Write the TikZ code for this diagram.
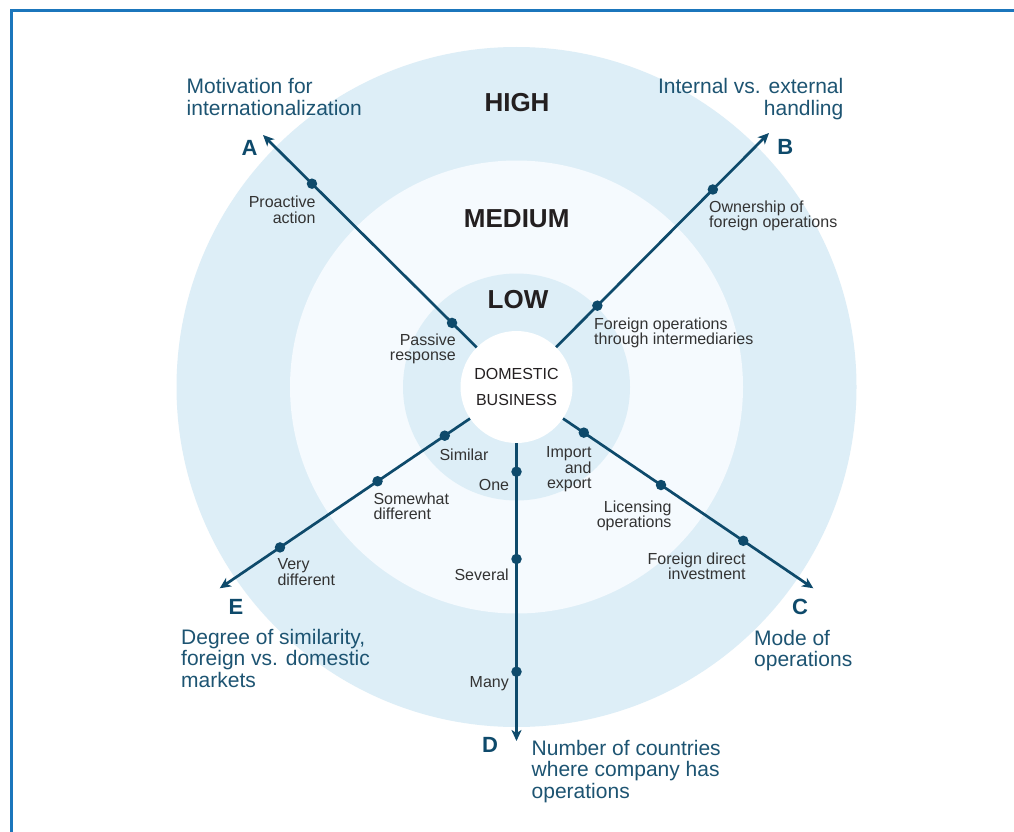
\documentclass[tikz,border=0pt]{standalone}
\usepackage{fontspec}
\setmainfont{Liberation Sans}
\usetikzlibrary{arrows.meta,calc}

\definecolor{ringblue}{HTML}{DDEEF7}
\definecolor{paleblue}{HTML}{F5FAFE}
\definecolor{axisblue}{HTML}{0E4A6B}
\definecolor{titleblue}{HTML}{1D5472}
\definecolor{frameblue}{HTML}{1B76BC}
\definecolor{inkgray}{HTML}{333333}
\definecolor{levelink}{HTML}{231F20}

\tikzset{
  frameline/.style={draw=frameblue, line width=2.6pt},
  axis/.style={draw=axisblue, line width=2.7pt,
    -{Stealth[length=11pt,width=10pt,inset=3pt]}},
  dot/.style={circle, fill=axisblue, inner sep=0pt, minimum size=10.5pt},
  level/.style={text=levelink, inner sep=0pt,
    font=\bfseries\fontsize{26}{26}\selectfont},
  letter/.style={text=axisblue, inner sep=0pt,
    font=\bfseries\fontsize{22}{22}\selectfont},
  axistitle/.style={text=titleblue, inner sep=0pt,
    font=\fontsize{21}{21.5}\selectfont},
  valuelabel/.style={text=inkgray, inner sep=0pt,
    font=\fontsize{16}{15.5}\selectfont},
  core/.style={circle, fill=white, minimum size=112pt, inner sep=0pt,
    align=center, text=levelink, font=\fontsize{16}{26.5}\selectfont},
}

\begin{document}
\begin{tikzpicture}[x=1pt, y=-1pt]
  \useasboundingbox (0,0) rectangle (1014,832);
  \fill[white] (0,0) rectangle (1014,832);

  % frame edges (top and left)
  \draw[frameline] (11.5,832) -- (11.5,10.5) -- (1014,10.5);

  % concentric rings
  \coordinate (c) at (516.5,387);
  \fill[ringblue]  (c) circle[radius=340pt];
  \fill[paleblue]  (c) circle[radius=226.5pt];
  \fill[ringblue]  (c) circle[radius=113.5pt];

  % level names
  \node[level] (high) at (517,103) {HIGH};
  \node[level] (medium) at (516.7,219) {MEDIUM};
  \node[level] (low) at (518,300) {LOW};

  % centre
  \node[core] (dom) at (c) {DOMESTIC\\BUSINESS};

  % axis end points
  \coordinate (tipA) at (263,135);
  \coordinate (tipB) at (769,133);
  \coordinate (tipC) at (813.3,588.3);
  \coordinate (tipD) at (516.5,741);
  \coordinate (tipE) at (219.7,588.3);

  % axes
  \draw[axis] (dom) -- (tipA);
  \draw[axis] (dom) -- (tipB);
  \draw[axis] (dom) -- (tipC);
  \draw[axis] (dom) -- (tipD);
  \draw[axis] (dom) -- (tipE);

  % value marks along the axes
  \node[dot] (a1) at ($(c)!90.9pt!(tipA)$) {};
  \node[dot] (a2) at ($(c)!288.4pt!(tipA)$) {};
  \node[dot] (b1) at ($(c)!114.7pt!(tipB)$) {};
  \node[dot] (b2) at ($(c)!278.5pt!(tipB)$) {};
  \node[dot] (c1) at ($(c)!81.3pt!(tipC)$) {};
  \node[dot] (c2) at ($(c)!174.6pt!(tipC)$) {};
  \node[dot] (c3) at ($(c)!274pt!(tipC)$) {};
  \node[dot] (d1) at ($(c)!84.7pt!(tipD)$) {};
  \node[dot] (d2) at ($(c)!172pt!(tipD)$) {};
  \node[dot] (d3) at ($(c)!284.7pt!(tipD)$) {};
  \node[dot] (e1) at ($(c)!86.7pt!(tipE)$) {};
  \node[dot] (e2) at ($(c)!167.9pt!(tipE)$) {};
  \node[dot] (e3) at ($(c)!285.8pt!(tipE)$) {};

  % axis letters
  \node[letter] (lA) at (249.5,148) {A};
  \node[letter] (lB) at (785.3,146.7) {B};
  \node[letter] (lC) at (800,607) {C};
  \node[letter] (lD) at (490,745) {D};
  \node[letter] (lE) at (236,607) {E};

  % axis titles
  \node[axistitle, anchor=north west, align=left] (tA) at (186.5,78.5)
    {Motivation for\\internationalization};
  \node[axistitle, anchor=north east, align=right] (tB) at (843.5,78.5)
    {Internal vs. external\\handling};
  \node[axistitle, anchor=north west, align=left] (tC) at (754,630)
    {Mode of\\operations};
  \node[axistitle, anchor=north west, align=left] (tD) at (531.5,740)
    {Number of countries\\where company has\\operations};
  \node[axistitle, anchor=north west, align=left] (tE) at (181,629)
    {Degree of similarity,\\foreign vs. domestic\\markets};

  % value labels
  \node[valuelabel, anchor=north east, align=right] (va2) at (315.7,196)
    {Proactive\\action};
  \node[valuelabel, anchor=north east, align=right] (va1) at (456,333.3)
    {Passive\\response};
  \node[valuelabel, anchor=north west, align=left] (vb2) at (709,200.7)
    {Ownership of\\foreign operations};
  \node[valuelabel, anchor=north west, align=left] (vb1) at (594,317.3)
    {Foreign operations\\through intermediaries};
  \node[valuelabel, anchor=north east, align=right] (vc1) at (591.7,446.7)
    {Import\\and\\export};
  \node[valuelabel, anchor=north east, align=right] (vc2) at (671.7,500.7)
    {Licensing\\operations};
  \node[valuelabel, anchor=north east, align=right] (vc3) at (745.7,552.7)
    {Foreign direct\\investment};
  \node[valuelabel, anchor=north east] (vd1) at (509.3,479) {One};
  \node[valuelabel, anchor=north east] (vd2) at (509,568.3) {Several};
  \node[valuelabel, anchor=north east] (vd3) at (509,676) {Many};
  \node[valuelabel, anchor=north] (ve1) at (464,449) {Similar};
  \node[valuelabel, anchor=north west, align=left] (ve2) at (373.3,492.3)
    {Somewhat\\different};
  \node[valuelabel, anchor=north west, align=left] (ve3) at (277.3,558.3)
    {Very\\different};
\end{tikzpicture}
\end{document}
